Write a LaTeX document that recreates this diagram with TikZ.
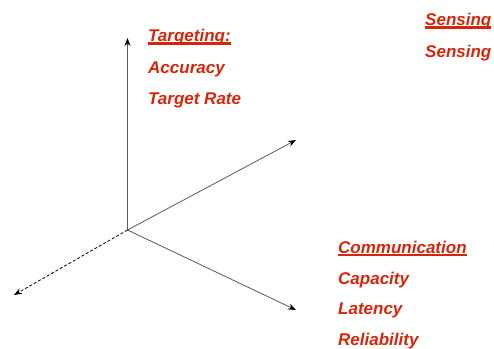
\documentclass[tikz,border=0pt]{standalone}
\usepackage{fontspec}
\setmainfont{Liberation Sans}
\usetikzlibrary{arrows.meta}
\definecolor{headred}{RGB}{212,38,10}
\newcommand{\headul}[1]{\setbox0\hbox{#1}\rlap{\rule[-3.2pt]{\wd0}{2.4pt}}\box0}
\begin{document}
\begin{tikzpicture}[x=1pt,y=-1pt]
      \useasboundingbox (0,0) rectangle (494,348);

      \coordinate (o) at (127.5,230);
      \coordinate (1) at (127.5,38);
      \coordinate (2) at (296,140);
      \coordinate (3) at (296,310);
      \coordinate (4) at (14,295);

      \begin{scope}[every edge/.style={draw=black!65, line width=0.8pt,
          -{Stealth[length=8pt,width=6pt,color=black]}}]
        \path (o) edge[line width=1.2pt] (1);
        \path (o) edge (2);
        \path (o) edge (3);
        \path (o) edge[draw=black, dash pattern=on 3pt off 2pt] (4);
      \end{scope}

      \begin{scope}[every node/.style={anchor=base west, inner sep=0,
          text=headred, font=\fontsize{17}{20}\selectfont\bfseries\itshape}]
        \node (tg)  at (148,41.5)  {\headul{Targeting:}};
        \node (tg1) at (148,73)  {Accuracy};
        \node (tg2) at (148,104) {Target Rate};
        \node (sn)  at (425,25.5)  {\headul{Sensing}};
        \node (sn1) at (425,57)  {Sensing};
        \node (cm)  at (338,253) {\headul{Communication}};
        \node (cm1) at (338,284) {Capacity};
        \node (cm2) at (338,314.5) {Latency};
        \node (cm3) at (338,345.5) {Reliability};
      \end{scope}

    \end{tikzpicture}
\end{document}
